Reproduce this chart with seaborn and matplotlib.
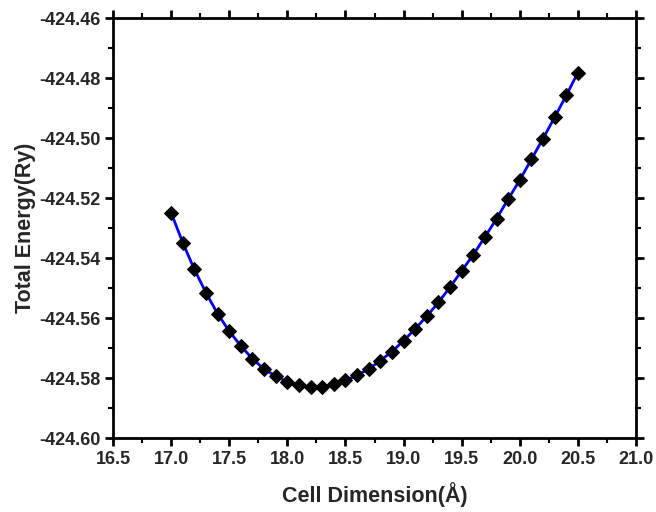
import matplotlib
matplotlib.use("Agg")
import matplotlib.pyplot as plt
import seaborn as sns
import pandas as pd
from matplotlib.ticker import MultipleLocator, FormatStrFormatter

cell_dim = [17.0, 17.1, 17.2, 17.3, 17.4, 17.5, 17.6, 17.7, 17.8, 17.9,
            18.0, 18.1, 18.2, 18.3, 18.4, 18.5, 18.6, 18.7, 18.8, 18.9,
            19.0, 19.1, 19.2, 19.3, 19.4, 19.5, 19.6, 19.7, 19.8, 19.9,
            20.0, 20.1, 20.2, 20.3, 20.4, 20.5]
energy = [-424.5248, -424.5348, -424.5437, -424.5515, -424.5585, -424.5643,
          -424.5692, -424.5735, -424.5769, -424.5793, -424.5812, -424.5823,
          -424.5829, -424.5828, -424.5820, -424.5807, -424.5790, -424.5769,
          -424.5741, -424.5711, -424.5675, -424.5635, -424.5593, -424.5547,
          -424.5496, -424.5442, -424.5388, -424.5329, -424.5268, -424.5203,
          -424.5139, -424.5070, -424.5001, -424.4930, -424.4857, -424.4781]

df = pd.DataFrame({"x": cell_dim, "y": energy})

sns.set_style("ticks")
plt.rcParams["font.family"] = ["Liberation Sans", "DejaVu Sans"]
plt.rcParams["font.weight"] = "bold"

fig = plt.figure(figsize=(6.56, 5.12), dpi=100)
ax = fig.add_axes([0.1723, 0.1439, 0.7972, 0.8204])

sns.lineplot(data=df, x="x", y="y", ax=ax, color="blue", linewidth=2,
             marker="D", markersize=7.5, markerfacecolor="black",
             markeredgecolor="black")

ax.set_xlim(16.5, 21.0)
ax.set_ylim(-424.60, -424.46)
ax.xaxis.set_major_locator(MultipleLocator(0.5))
ax.xaxis.set_minor_locator(MultipleLocator(0.25))
ax.yaxis.set_major_locator(MultipleLocator(0.02))
ax.yaxis.set_minor_locator(MultipleLocator(0.01))
ax.xaxis.set_major_formatter(FormatStrFormatter("%.1f"))
ax.yaxis.set_major_formatter(FormatStrFormatter("%.2f"))

for s in ax.spines.values():
    s.set_visible(True)
    s.set_linewidth(2)
    s.set_color("black")

ax.tick_params(which="both", direction="out", top=True, right=True,
               labeltop=False, labelright=False, color="black")
ax.tick_params(which="major", length=6, width=2, labelsize=13, pad=3)
ax.tick_params(which="minor", length=3.5, width=1.5)
for lab in ax.get_xticklabels() + ax.get_yticklabels():
    lab.set_fontweight("bold")

ax.set_xlabel("Cell Dimension(Å)", fontsize=15.5, fontweight="bold", labelpad=10)
ax.set_ylabel("Total Energy(Ry)", fontsize=15.5, fontweight="bold", labelpad=2)

fig.savefig("out.png", dpi=100)
